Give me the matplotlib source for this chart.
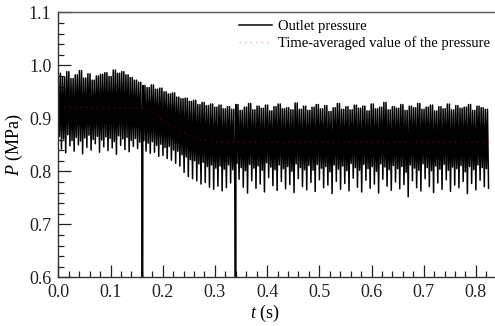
import numpy as np
import matplotlib.pyplot as plt

plt.rcParams['font.family'] = 'serif'
plt.rcParams['font.serif'] = ['Liberation Serif', 'DejaVu Serif']
plt.rcParams['mathtext.fontset'] = 'custom'
plt.rcParams['mathtext.it'] = 'Liberation Serif:italic'
plt.rcParams['mathtext.rm'] = 'Liberation Serif'

# one entry per pressure cycle (period ~0.0081 s)
cycle_period = 0.0081
peak = [0.985, 0.978, 0.988, 0.975, 0.982, 0.990, 0.976, 0.984, 0.972, 0.980,
        0.983, 0.986, 0.979, 0.991, 0.985, 0.988, 0.982, 0.977, 0.972, 0.968,
        0.962, 0.958, 0.963, 0.955, 0.957, 0.950, 0.946, 0.948, 0.940, 0.937,
        0.938, 0.932, 0.934, 0.926, 0.930, 0.924, 0.927, 0.921, 0.925, 0.918,
        0.922, 0.917, 0.926, 0.915, 0.921, 0.928, 0.916, 0.923, 0.919, 0.925,
        0.914, 0.922, 0.927, 0.918, 0.920, 0.916, 0.929, 0.917, 0.923, 0.915,
        0.921, 0.926, 0.918, 0.924, 0.913, 0.920, 0.928, 0.917, 0.922, 0.916,
        0.925, 0.919, 0.923, 0.914, 0.927, 0.918, 0.921, 0.930, 0.916, 0.922,
        0.919, 0.926, 0.915, 0.923, 0.920, 0.928, 0.917, 0.921, 0.925, 0.914,
        0.922, 0.918, 0.927, 0.916, 0.924, 0.919, 0.921, 0.926, 0.915, 0.923,
        0.920, 0.917]
# shallower dip inside each cycle
dip = [0.866, 0.861, 0.869, 0.858, 0.864, 0.857, 0.863, 0.868, 0.860, 0.866,
       0.859, 0.865, 0.862, 0.856, 0.867, 0.861, 0.864, 0.858, 0.862, 0.855,
       0.858, 0.853, 0.856, 0.849, 0.851, 0.845, 0.847, 0.840, 0.838, 0.831,
       0.827, 0.822, 0.820, 0.814, 0.817, 0.809, 0.812, 0.806, 0.810, 0.804,
       0.812, 0.803, 0.815, 0.807, 0.801, 0.813, 0.806, 0.810, 0.802, 0.816,
       0.808, 0.803, 0.812, 0.805, 0.809, 0.800, 0.814, 0.807, 0.803, 0.811,
       0.802, 0.813, 0.806, 0.809, 0.799, 0.812, 0.804, 0.810, 0.801, 0.815,
       0.807, 0.802, 0.813, 0.805, 0.809, 0.800, 0.814, 0.808, 0.803, 0.811,
       0.805, 0.809, 0.798, 0.812, 0.806, 0.802, 0.814, 0.807, 0.801, 0.810,
       0.804, 0.813, 0.802, 0.808, 0.805, 0.811, 0.799, 0.809, 0.803, 0.812,
       0.807, 0.805]
trough = [0.842, 0.835, 0.848, 0.838, 0.850, 0.833, 0.845, 0.840, 0.852, 0.836,
          0.846, 0.839, 0.844, 0.832, 0.849, 0.841, 0.837, 0.847, 0.843, 0.838,
          0.838, 0.834, 0.836, 0.828, 0.830, 0.824, 0.821, 0.815, 0.810, 0.798,
          0.790, 0.786, 0.782, 0.776, 0.779, 0.770, 0.766, 0.772, 0.763, 0.769,
          0.778, 0.762, 0.785, 0.770, 0.759, 0.782, 0.768, 0.776, 0.761, 0.788,
          0.773, 0.764, 0.781, 0.767, 0.775, 0.760, 0.786, 0.771, 0.765, 0.779,
          0.762, 0.784, 0.769, 0.774, 0.758, 0.781, 0.766, 0.777, 0.763, 0.787,
          0.770, 0.761, 0.783, 0.768, 0.776, 0.759, 0.785, 0.772, 0.764, 0.780,
          0.767, 0.775, 0.752, 0.782, 0.769, 0.763, 0.786, 0.771, 0.760, 0.778,
          0.766, 0.784, 0.762, 0.774, 0.769, 0.781, 0.758, 0.777, 0.765, 0.783,
          0.771, 0.768]
# isolated sensor drop-outs
glitch_t = [0.161, 0.340]
glitch_p = [0.0, 0.0]

# time-averaged pressure
avg_t = [0.0, 0.165, 0.18, 0.20, 0.22, 0.25, 0.28, 0.31, 0.827]
avg_p = [0.921, 0.920, 0.911, 0.896, 0.884, 0.867, 0.858, 0.855, 0.855]

# lay the cycle readings out on the time axis: peak, dip, peak, trough
n = len(peak)
t0 = np.arange(n) * cycle_period
frac = np.array([0.0, 1, 2, 3]) / 4
t = (t0[:, None] + frac[None, :] * cycle_period).ravel()
p = np.column_stack([peak, dip, peak, trough]).ravel()
t = np.concatenate([t, glitch_t])
p = np.concatenate([p, glitch_p])
order = np.argsort(t)
t, p = t[order], p[order]

fig = plt.figure(figsize=(4.95, 3.26), dpi=100)
ax = fig.add_axes([58.3 / 495, 1 - 277.3 / 326, (496.8 - 58.3) / 495, (277.3 - 12.3) / 326])

ax.plot(t, p, color='black', linewidth=1.1, label='Outlet pressure')
ax.plot(avg_t, avg_p, color='red', alpha=0.35, linewidth=1.0,
        linestyle=(0, (1, 3)), label='Time-averaged value of the pressure')

ax.set_xlim(0, 0.84)
ax.set_ylim(0.6, 1.1)
ax.set_xticks(np.arange(0, 0.81, 0.1))
ax.set_xticks(np.arange(0, 0.84, 0.02), minor=True)
ax.set_yticks(np.arange(0.6, 1.11, 0.1))
ax.set_yticks(np.arange(0.6, 1.1, 0.02), minor=True)
ax.xaxis.set_major_formatter(plt.FormatStrFormatter('%.1f'))
ax.yaxis.set_major_formatter(plt.FormatStrFormatter('%.1f'))
ax.tick_params(which='both', direction='in', top=False, right=False,
               labelsize=13, colors='#222222', width=0.9, pad=5)
ax.tick_params(which='major', length=9)
ax.tick_params(which='minor', length=4.5)
for s in ['left', 'bottom', 'top']:
    ax.spines[s].set_color('#333333')
    ax.spines[s].set_linewidth(1.0)
ax.spines['top'].set_color('#555555')
ax.spines['right'].set_visible(False)

ax.set_xlabel('$t$ (s)', fontsize=13)
ax.set_ylabel('$P$ (MPa)', fontsize=13)
ax.xaxis.set_label_coords((265 - 58.3) / 438.5, -0.095)
ax.yaxis.set_label_coords(-0.077, 0.5)

leg = ax.legend(loc='upper right', bbox_to_anchor=(490 / 495, 1 - 20 / 326),
                bbox_transform=fig.transFigure, frameon=False, fontsize=10.5,
                handlelength=2.3, handletextpad=0.4, labelspacing=0.2,
                borderpad=0, borderaxespad=0)

fig.savefig('out.png', dpi=100)
